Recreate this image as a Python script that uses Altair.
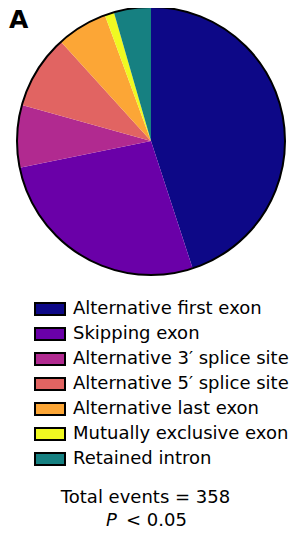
import altair as alt
import pandas as pd

types = [
    "Alternative first exon",
    "Skipping exon",
    "Alternative 3\u2032 splice site",
    "Alternative 5\u2032 splice site",
    "Alternative last exon",
    "Mutually exclusive exon",
    "Retained intron",
]
counts = [161, 96, 27, 32, 22, 4, 16]
colors = ["#0d0887", "#6a00a8", "#b12a90", "#e16462", "#fca636", "#f0f921", "#168081"]

FONT = "DejaVu Sans"

df = pd.DataFrame({"type": types, "count": counts, "idx": list(range(len(types)))})

color = alt.Color("type:N", scale=alt.Scale(domain=types, range=colors), legend=None)

pie = alt.Chart(df).mark_arc(radius=134, strokeWidth=0).encode(
    theta=alt.Theta("count:Q", stack=True),
    order=alt.Order("idx:Q"),
    color=color,
    x=alt.value(143),
    y=alt.value(133),
)

outline = alt.Chart(pd.DataFrame({"k": [0]})).mark_point(
    shape="circle", size=268 * 268, filled=False, stroke="black", strokeWidth=2, opacity=1
).encode(x=alt.value(143), y=alt.value(133))

yscale = alt.Y("type:N", sort=types, axis=None,
               scale=alt.Scale(type="point", domain=types, range=[301, 451], padding=0))

swatches = alt.Chart(df).mark_point(
    shape="M-1,-0.4H1V0.4H-1Z", size=900, filled=True, stroke="black", strokeWidth=2, opacity=1
).encode(x=alt.value(42), y=yscale, color=color)

labels = alt.Chart(df).mark_text(
    align="left", baseline="middle", font=FONT, fontSize=18, color="black"
).encode(x=alt.value(65), y=yscale, text="type:N")

panel = alt.Chart(pd.DataFrame({"t": ["A"]})).mark_text(
    align="left", baseline="top", font=FONT, fontSize=25, fontWeight="bold", color="black"
).encode(x=alt.value(1), y=alt.value(0), text="t:N")

total = alt.Chart(pd.DataFrame({"t": ["Total events = 358"]})).mark_text(
    align="center", baseline="middle", font=FONT, fontSize=18, color="black"
).encode(x=alt.value(137.5), y=alt.value(490), text="t:N")

pitalic = alt.Chart(pd.DataFrame({"t": ["P"]})).mark_text(
    align="left", baseline="middle", font=FONT, fontSize=18, fontStyle="italic", color="black"
).encode(x=alt.value(98), y=alt.value(513), text="t:N")

prest = alt.Chart(pd.DataFrame({"t": ["< 0.05"]})).mark_text(
    align="left", baseline="middle", font=FONT, fontSize=18, color="black"
).encode(x=alt.value(118), y=alt.value(513), text="t:N")

chart = alt.layer(pie, outline, swatches, labels, panel, total, pitalic, prest).properties(
    width=282, height=522, autosize="none", padding=0
).configure_view(stroke=None).resolve_scale(y="independent")

chart.save("out.html", embed_options={"renderer": "svg", "actions": False})
